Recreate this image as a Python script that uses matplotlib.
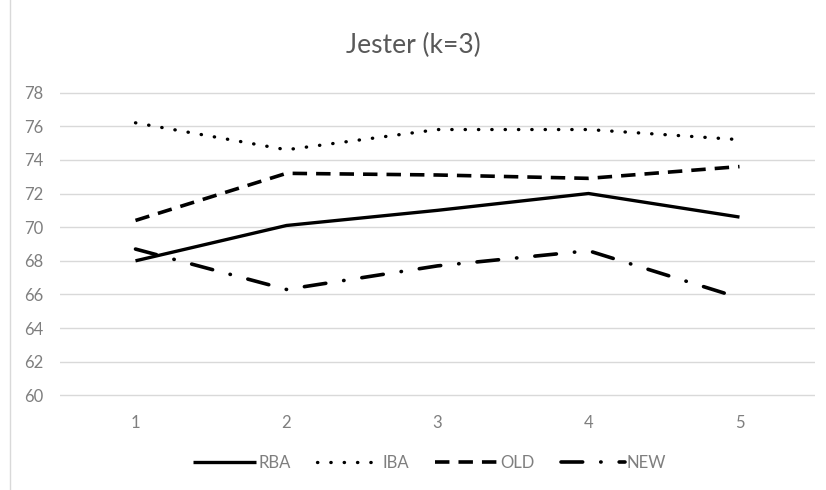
import matplotlib.pyplot as plt
from matplotlib.patches import Rectangle

plt.rcParams['font.family'] = ['Lato', 'DejaVu Sans']

# Data
x_labels = ['1', '2', '3', '4', '5']
rba = [68.0, 70.1, 71.0, 72.0, 70.6]
iba = [76.2, 74.6, 75.8, 75.8, 75.2]
old = [70.4, 73.2, 73.1, 72.9, 73.6]
new = [68.7, 66.3, 67.7, 68.6, 65.8]
y_ticks = [60, 62, 64, 66, 68, 70, 72, 74, 76, 78]

gray = '#7f7f7f'
x = range(1, len(x_labels) + 1)

fig = plt.figure(figsize=(8.26, 4.9), dpi=100)
ax = fig.add_axes([60 / 826, 92 / 490, 755 / 826, 308 / 490])

ax.plot(x, rba, color='black', lw=2.4, label='RBA', solid_capstyle='butt')
ax.plot(x, iba, color='black', lw=2.4, label='IBA', linestyle=(0, (0.1, 3.9)),
        dash_capstyle='round')
ax.plot(x, old, color='black', lw=2.6, label='OLD', linestyle=(0, (4, 2.5)))
ax.plot(x, new, color='black', lw=2.6, label='NEW',
        linestyle=(0, (6, 5, 0.1, 5)), dash_capstyle='round')

ax.set_xlim(0.5, 5.5)
ax.set_ylim(59.85, 78.15)
ax.set_xticks(list(x))
ax.set_xticklabels(x_labels)
ax.set_yticks(y_ticks)
ax.grid(axis='y', color='#d9d9d9', lw=1)
ax.set_axisbelow(True)
for s in ax.spines.values():
    s.set_visible(False)
ax.tick_params(length=0, colors=gray, labelsize=12, pad=12)
ax.tick_params(axis='x', pad=12)

fig.text(0.5, 1 - 45 / 490, 'Jester (k=3)', ha='center', va='center',
         fontsize=19, color='#595959')

leg = ax.legend(loc='center', bbox_to_anchor=(0.52, (490 - 463) / 490),
                bbox_transform=fig.transFigure, ncol=4, frameon=False,
                fontsize=12, handlelength=3.8, handletextpad=0.1,
                columnspacing=1.6)
for t in leg.get_texts():
    t.set_color(gray)

# thin frame around the chart
fig.patches.append(Rectangle((10 / 826, -0.01), 1.1, 1.02, transform=fig.transFigure,
                             fill=False, edgecolor='#d9d9d9', lw=1))

fig.savefig('out.png', dpi=100)
